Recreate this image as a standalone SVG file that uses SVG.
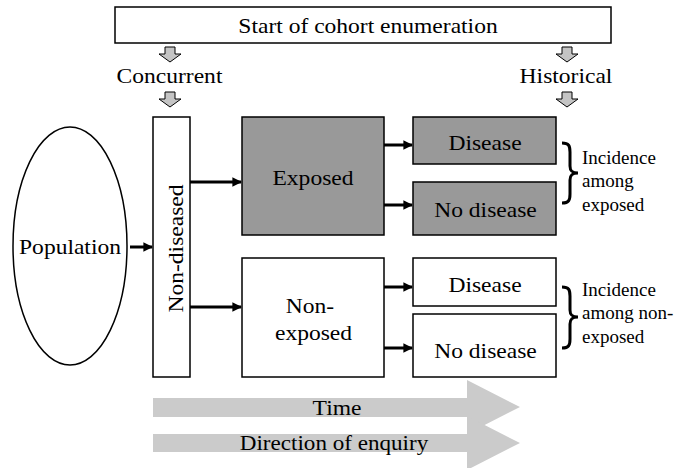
<svg xmlns="http://www.w3.org/2000/svg" width="676" height="468" viewBox="0 0 676 468">
<defs>
<marker id="ah" viewBox="0 0 10 10" refX="9" refY="5" markerWidth="3.2" markerHeight="3.2" orient="auto" markerUnits="strokeWidth">
<path d="M0,0 L10,5 L0,10 z" fill="#000"/>
</marker>
</defs>
<rect width="676" height="468" fill="#fff"/>

<g id="start">
<rect x="115" y="7" width="496" height="36" fill="#fff" stroke="#000" stroke-width="1.5"/>
<text font-family="Liberation Serif" font-size="22" text-anchor="middle" transform="translate(368,33) scale(1.07,1)">Start of cohort enumeration</text>
</g>

<g id="timing-arrows" fill="#c4c4c4" stroke="#000" stroke-width="1">
<path d="M165,47 H175 V54 H181 L170,62 L159,54 H165 Z"/>
<path d="M165,92 H175 V99 H181 L170,107 L159,99 H165 Z"/>
<path d="M562,47 H572 V54 H578 L567,62 L556,54 H562 Z"/>
<path d="M562,92 H572 V99 H578 L567,107 L556,99 H562 Z"/>
</g>
<g id="concurrent"><text font-family="Liberation Serif" font-size="22" text-anchor="middle" transform="translate(169.5,83) scale(1.07,1)">Concurrent</text></g>
<g id="historical"><text font-family="Liberation Serif" font-size="22" text-anchor="middle" transform="translate(566,83) scale(1.07,1)">Historical</text></g>

<g id="population">
<ellipse cx="70" cy="246" rx="57" ry="119" fill="#fff" stroke="#000" stroke-width="1.5"/>
<text font-family="Liberation Serif" font-size="22" text-anchor="middle" transform="translate(70,254) scale(1.07,1)">Population</text>
</g>

<g id="non-diseased">
<rect x="153" y="117" width="37" height="260" fill="#fff" stroke="#000" stroke-width="1.5"/>
<text font-family="Liberation Serif" font-size="22" text-anchor="middle" transform="translate(183,248.5) rotate(-90) scale(1.07,1)">Non-diseased</text>
</g>

<g id="exposed">
<rect x="242" y="117" width="142" height="118" fill="#999" stroke="#000" stroke-width="1.5"/>
<text font-family="Liberation Serif" font-size="22" text-anchor="middle" transform="translate(313,185) scale(1.07,1)">Exposed</text>
</g>

<g id="non-exposed">
<rect x="242" y="258" width="142" height="119" fill="#fff" stroke="#000" stroke-width="1.5"/>
<text font-family="Liberation Serif" font-size="22" text-anchor="middle" transform="translate(310,313) scale(1.07,1)">Non-</text>
<text font-family="Liberation Serif" font-size="22" text-anchor="middle" transform="translate(313.5,340) scale(1.07,1)">exposed</text>
</g>

<g id="exp-disease">
<rect x="413" y="117" width="143" height="47" fill="#999" stroke="#000" stroke-width="1.5"/>
<text font-family="Liberation Serif" font-size="22" text-anchor="middle" transform="translate(485,150) scale(1.07,1)">Disease</text>
</g>
<g id="exp-no-disease">
<rect x="413" y="182" width="143" height="53" fill="#999" stroke="#000" stroke-width="1.5"/>
<text font-family="Liberation Serif" font-size="22" text-anchor="middle" transform="translate(485.5,217) scale(1.07,1)">No disease</text>
</g>
<g id="nonexp-disease">
<rect x="413" y="258" width="143" height="48" fill="#fff" stroke="#000" stroke-width="1.5"/>
<text font-family="Liberation Serif" font-size="22" text-anchor="middle" transform="translate(485,292) scale(1.07,1)">Disease</text>
</g>
<g id="nonexp-no-disease">
<rect x="413" y="314" width="143" height="63" fill="#fff" stroke="#000" stroke-width="1.5"/>
<text font-family="Liberation Serif" font-size="22" text-anchor="middle" transform="translate(485.5,358) scale(1.07,1)">No disease</text>
</g>

<g id="incidence-exposed">
<path d="M562,143 C569,143 570,146 570,152 L570,166 C570,171 572,173 578,173 C572,173 570,175 570,180 L570,194 C570,200 569,203 562,203" fill="none" stroke="#000" stroke-width="3"/>
<text font-family="Liberation Serif" font-size="19" x="582" y="164">Incidence</text>
<text font-family="Liberation Serif" font-size="19" x="582" y="187">among</text>
<text font-family="Liberation Serif" font-size="19" x="582" y="211">exposed</text>
</g>
<g id="incidence-nonexposed">
<path d="M562,287 C569,287 570,290 570,296 L570,310 C570,315 572,317 578,317 C572,317 570,319 570,324 L570,339 C570,345 569,348 562,348" fill="none" stroke="#000" stroke-width="3"/>
<text font-family="Liberation Serif" font-size="19" x="582" y="296">Incidence</text>
<text font-family="Liberation Serif" font-size="19" x="582" y="319">among non-</text>
<text font-family="Liberation Serif" font-size="19" x="582" y="343">exposed</text>
</g>

<g id="connectors" stroke="#000" stroke-width="3" fill="none" marker-end="url(#ah)">
<line x1="130" y1="247" x2="152" y2="247"/>
<line x1="190" y1="182" x2="241" y2="182"/>
<line x1="190" y1="307" x2="241" y2="307"/>
<line x1="384" y1="145" x2="412" y2="145"/>
<line x1="384" y1="205" x2="412" y2="205"/>
<line x1="384" y1="287" x2="412" y2="287"/>
<line x1="384" y1="348" x2="412" y2="348"/>
</g>

<g id="time">
<polygon points="153,398 467,398 467,380 520,407 467,434 467,417 153,417" fill="#cbcbcb"/>
<text font-family="Liberation Serif" font-size="22" text-anchor="middle" transform="translate(337,415) scale(1.07,1)">Time</text>
</g>
<g id="direction">
<polygon points="153,434 467,434 467,416 520,443 467,470 467,452 153,452" fill="#cbcbcb"/>
<text font-family="Liberation Serif" font-size="22" text-anchor="middle" transform="translate(334,450) scale(1.05,1)">Direction of enquiry</text>
</g>
</svg>
